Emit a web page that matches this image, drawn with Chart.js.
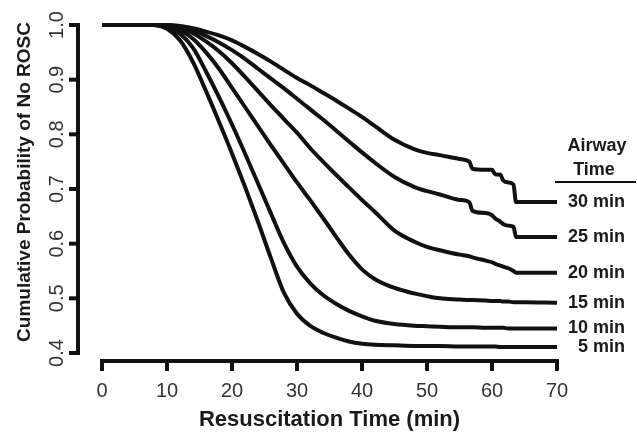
<!DOCTYPE html>
<html>
<head>
<meta charset="utf-8">
<script src="https://cdn.jsdelivr.net/npm/chart.js@4"></script>
<style>
  body { margin: 0; background: #fff; }
  canvas { display: block; }
</style>
</head>
<body>
<canvas id="grafico" width="637" height="432"></canvas>
<script>
// tempo de ressuscitacao (min)
var minutes = [0, 8, 10, 12, 14, 16, 18, 20, 22, 24, 26, 28, 30, 32, 34, 36, 38, 40, 42, 45, 48, 50, 52, 55, 56.5, 57, 59, 60, 60.5, 61.3, 61.7, 62.5, 63.3, 63.7, 65, 70];

// probabilidade acumulada de nao ROSC, por tempo de via aerea
var airway5  = [1, 1, 0.993, 0.972, 0.932, 0.879, 0.823, 0.765, 0.704, 0.64, 0.573, 0.51, 0.472, 0.45, 0.437, 0.428, 0.421, 0.417, 0.415, 0.414, 0.413, 0.413, 0.413, 0.412, 0.412, 0.412, 0.412, 0.412, 0.412, 0.411, 0.411, 0.411, 0.411, 0.411, 0.411, 0.411];
var airway10 = [1, 1, 0.997, 0.984, 0.958, 0.915, 0.868, 0.818, 0.765, 0.71, 0.655, 0.601, 0.558, 0.528, 0.506, 0.49, 0.477, 0.467, 0.459, 0.453, 0.45, 0.449, 0.448, 0.447, 0.447, 0.447, 0.446, 0.446, 0.446, 0.446, 0.446, 0.445, 0.445, 0.445, 0.445, 0.445];
var airway15 = [1, 1, 0.998, 0.99, 0.975, 0.95, 0.92, 0.885, 0.85, 0.815, 0.78, 0.746, 0.712, 0.68, 0.647, 0.613, 0.58, 0.553, 0.535, 0.519, 0.509, 0.504, 0.5, 0.498, 0.497, 0.497, 0.496, 0.495, 0.495, 0.495, 0.494, 0.494, 0.493, 0.493, 0.493, 0.492];
var airway20 = [1, 1, 0.999, 0.994, 0.985, 0.97, 0.952, 0.93, 0.905, 0.879, 0.853, 0.828, 0.803, 0.775, 0.75, 0.726, 0.703, 0.68, 0.658, 0.624, 0.604, 0.594, 0.588, 0.58, 0.577, 0.575, 0.569, 0.566, 0.563, 0.56, 0.558, 0.555, 0.55, 0.547, 0.547, 0.547];
var airway25 = [1, 1, 1, 0.996, 0.99, 0.98, 0.968, 0.954, 0.938, 0.92, 0.902, 0.884, 0.865, 0.846, 0.827, 0.807, 0.787, 0.767, 0.748, 0.722, 0.704, 0.696, 0.69, 0.68, 0.676, 0.66, 0.656, 0.652, 0.646, 0.64, 0.636, 0.633, 0.631, 0.612, 0.612, 0.612];
var airway30 = [1, 1, 1, 0.998, 0.994, 0.988, 0.981, 0.972, 0.96, 0.947, 0.933, 0.918, 0.903, 0.89, 0.876, 0.862, 0.847, 0.832, 0.815, 0.79, 0.773, 0.766, 0.762, 0.755, 0.75, 0.737, 0.735, 0.735, 0.727, 0.726, 0.716, 0.712, 0.708, 0.676, 0.676, 0.676];

var series = [airway5, airway10, airway15, airway20, airway25, airway30];
var seriesLabels = ["5 min", "10 min", "15 min", "20 min", "25 min", "30 min"];

var xTicks = [0, 10, 20, 30, 40, 50, 60, 70];
var yTicks = [0.4, 0.5, 0.6, 0.7, 0.8, 0.9, 1.0];
var yTickLabels = ["0.4", "0.5", "0.6", "0.7", "0.8", "0.9", "1.0"];

var xTitle = "Resuscitation Time (min)";
var yTitle = "Cumulative Probability of No ROSC";
var legendTitle = ["Airway", "Time"];

var cor = "#111111";

// eixos separados, desenhados a partir das escalas
var eixos = {
  id: "eixos",
  afterDraw: function(chart) {
    var ctx = chart.ctx;
    var x = chart.scales.x;
    var y = chart.scales.y;
    var area = chart.chartArea;
    ctx.save();
    ctx.strokeStyle = cor;
    ctx.lineWidth = 4;
    ctx.lineCap = "butt";

    // eixo y
    var yx = area.left - 24;
    ctx.beginPath();
    ctx.moveTo(yx, y.getPixelForValue(yTicks[0]) + 2);
    ctx.lineTo(yx, y.getPixelForValue(yTicks[yTicks.length - 1]) - 2);
    ctx.stroke();
    yTicks.forEach(function(v) {
      var p = y.getPixelForValue(v);
      ctx.beginPath();
      ctx.moveTo(yx + 2, p);
      ctx.lineTo(yx - 9, p);
      ctx.stroke();
    });

    // eixo x
    var xy = area.bottom + 8;
    ctx.beginPath();
    ctx.moveTo(x.getPixelForValue(xTicks[0]) - 2, xy);
    ctx.lineTo(x.getPixelForValue(xTicks[xTicks.length - 1]) + 2, xy);
    ctx.stroke();
    xTicks.forEach(function(v) {
      var p = x.getPixelForValue(v);
      ctx.beginPath();
      ctx.moveTo(p, xy - 2);
      ctx.lineTo(p, xy + 10);
      ctx.stroke();
    });

    // rotulos dos ticks
    ctx.fillStyle = "#333333";
    ctx.font = "20px 'Liberation Sans', Arial, sans-serif";
    ctx.textAlign = "center";
    ctx.textBaseline = "alphabetic";
    xTicks.forEach(function(v) {
      ctx.fillText(String(v), x.getPixelForValue(v), xy + 36);
    });
    yTicks.forEach(function(v, i) {
      ctx.save();
      ctx.translate(yx - 15, y.getPixelForValue(v));
      ctx.rotate(-Math.PI / 2);
      ctx.fillText(yTickLabels[i], 0, 0);
      ctx.restore();
    });

    // titulos
    ctx.fillStyle = "#1a1a1a";
    ctx.font = "bold 22px 'Liberation Sans', Arial, sans-serif";
    ctx.fillText(xTitle, (x.getPixelForValue(0) + x.getPixelForValue(70)) / 2, xy + 65);
    ctx.save();
    ctx.font = "bold 19px 'Liberation Sans', Arial, sans-serif";
    ctx.translate(30, (y.getPixelForValue(0.4) + y.getPixelForValue(1.0)) / 2 - 7);
    ctx.rotate(-Math.PI / 2);
    ctx.fillText(yTitle, 0, 0);
    ctx.restore();

    // legenda na ponta das curvas
    ctx.font = "bold 18px 'Liberation Sans', Arial, sans-serif";
    ctx.textAlign = "right";
    ctx.textBaseline = "middle";
    series.forEach(function(vals, i) {
      ctx.fillText(seriesLabels[i], 625, y.getPixelForValue(vals[vals.length - 1]));
    });
    ctx.textAlign = "center";
    ctx.textBaseline = "alphabetic";
    ctx.fillText(legendTitle[0], 597, 151);
    ctx.fillText(legendTitle[1], 594, 175);
    ctx.lineWidth = 2;
    ctx.beginPath();
    ctx.moveTo(555, 182);
    ctx.lineTo(636, 182);
    ctx.stroke();
    ctx.restore();
  }
};

var ctx = document.getElementById("grafico").getContext("2d");
var chart = new Chart(ctx, {
  type: "line",
  data: {
    datasets: series.map(function(vals, i) {
      return {
        label: seriesLabels[i],
        data: minutes.map(function(m, j) { return { x: m, y: vals[j] }; }),
        borderColor: cor,
        borderWidth: 4,
        pointRadius: 0,
        cubicInterpolationMode: "monotone",
        fill: false,
        clip: false
      };
    })
  },
  options: {
    responsive: false,
    animation: false,
    devicePixelRatio: 1,
    layout: { padding: { left: 102, right: 80, top: 25, bottom: 79 } },
    plugins: { legend: { display: false }, tooltip: { enabled: false } },
    scales: {
      x: { type: "linear", min: 0, max: 70, display: false },
      y: { type: "linear", min: 0.4, max: 1.0, display: false }
    }
  },
  plugins: [eixos]
});
</script>
</body>
</html>
